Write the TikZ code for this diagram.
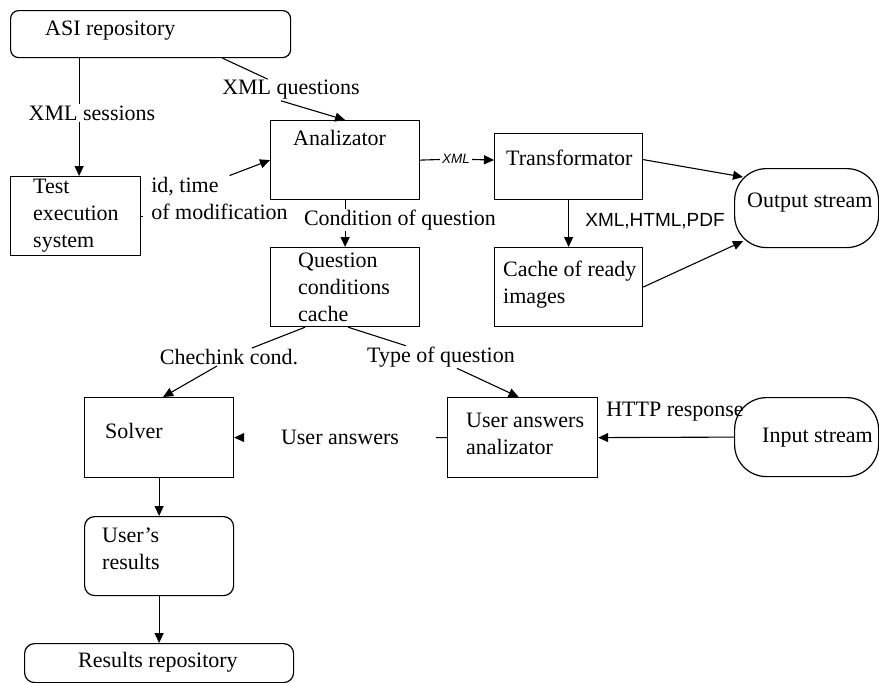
\documentclass[tikz,border=0pt]{standalone}
\usepackage{fontspec}
\setmainfont{Liberation Serif}
\newfontfamily\lsans{Liberation Sans}
\usetikzlibrary{arrows.meta}
\begin{document}
\begin{tikzpicture}[x=1pt,y=-1pt,
  font=\fontsize{22}{27}\selectfont,
  box/.style={draw, line width=1.2pt, inner sep=0pt, anchor=north west},
  rbox/.style={box, rounded corners=#1},
  rbox/.default=8pt,
  txt/.style={anchor=west, inner sep=0pt, align=left},
  lbl/.style={inner xsep=2pt, inner ysep=1pt, align=left},
  ln/.style={line width=1.1pt},
  arr/.style={line width=1.1pt, -{Triangle[length=10pt,width=9pt]}},
]
\useasboundingbox (0,0) rectangle (879,683);

% boxes
\node[rbox=8pt, minimum width=280pt, minimum height=47pt] (asi) at (10,10) {};
\node[box, minimum width=130pt, minimum height=79pt] (test) at (10,176) {};
\node[box, minimum width=149pt, minimum height=79pt] (ana) at (270,120) {};
\node[box, minimum width=148pt, minimum height=66pt] (trans) at (494,133) {};
\node[rbox=32pt, minimum width=144pt, minimum height=79pt] (outstr) at (734,168) {};
\node[box, minimum width=149pt, minimum height=79pt] (qcc) at (270,247) {};
\node[box, minimum width=148pt, minimum height=79pt] (cache) at (494,247) {};
\node[box, minimum width=149pt, minimum height=80pt] (solver) at (84,397) {};
\node[box, minimum width=150pt, minimum height=80pt] (uaa) at (447,397) {};
\node[rbox=32pt, minimum width=144pt, minimum height=79pt] (instr) at (734,397) {};
\node[rbox=10pt, minimum width=149pt, minimum height=79pt] (ures) at (84,516) {};
\node[rbox=10pt, minimum width=269pt, minimum height=39pt] (rrepo) at (24,643) {};

% box texts
\node[txt] (tasi) at (45,31) {ASI repository};
\node[txt] (ttest) at (33,216) {Test\\execution\\system};
\node[txt] (tana) at (293,138) {Analizator};
\node[txt] (ttrans) at (506,158) {Transformator};
\node[txt] (tout) at (747,203) {Output stream};
\node[txt] (tqcc) at (298,287) {Question\\conditions\\cache};
\node[txt] (tcache) at (503,285) {Cache of ready\\images};
\node[txt] (tsolver) at (105,431) {Solver};
\node[txt] (tuaa) at (466,434) {User answers\\analizator};
\node[txt] (tin) at (762,438) {Input stream};
\node[txt] (tures) at (102,549) {User’s\\results};
\node[txt] (trrepo) at (78,662) {Results repository};

% connector labels
\node[lbl] (lsess) at (92,113) {XML sessions};
\node[lbl] (lq) at (291,90) {XML questions};
\node[lbl, inner xsep=8pt] (lid) at (219.5,198) {id, time\\of modification};
\node[lbl] (lcond) at (400,220) {Condition of question};
\node[lbl, font=\lsans\itshape\fontsize{13.5}{16}\selectfont] (lxml) at (456,159) {XML};
\node[lbl, font=\lsans\fontsize{19}{23}\selectfont] (lhtml) at (655,221) {XML,HTML,PDF};
\node[lbl] (lchk) at (229,357) {Chechink cond.};
\node[lbl] (lty) at (441,357) {Type of question};
\node[lbl, inner xsep=37pt] (lans) at (340,437) {User answers};
\node[lbl] (lhttp) at (675,412) {HTTP response};

% connectors
\coordinate (sx) at ([xshift=3.5pt]test.north);
\draw[ln] (asi.south -| sx) -- (lsess.north -| sx);
\draw[arr] (lsess.south -| sx) -- (sx);
\draw[ln] ([xshift=72pt]asi.south) -- (lq);
\draw[arr] ([xshift=-10pt]lq.south) -- (ana.north);
\draw[ln] (test.east) -- (test.east -| lid.west);
\draw[arr] ([xshift=10pt]lid.north) -- (ana.west);
\draw[ln] (ana.south) -- (ana.south |- lcond.north);
\draw[arr] (ana.south |- lcond.south) -- (qcc.north);
\draw[ln] (ana.east) -- (lxml);
\draw[arr] (lxml) -- (trans.west |- ana.east);
\draw[arr] ([yshift=7pt]trans.east) -- ([xshift=9pt,yshift=-9pt]outstr.north west);
\draw[arr] (trans.south) -- (cache.north);
\draw[arr] (cache.east) -- ([xshift=9pt,yshift=7pt]outstr.south west);
\draw[ln] ([xshift=-40pt]qcc.south) -- (lchk);
\draw[arr] ([xshift=-12pt]lchk.south) -- ([xshift=4pt]solver.north);
\draw[ln] ([xshift=3pt]qcc.south) -- (lty);
\draw[arr] ([xshift=16pt]lty.south) -- ([xshift=-4pt]uaa.north);
\draw[ln] (uaa.west) -- (lans);
\draw[arr] (lans) -- (solver.east);
\draw[arr] (instr.west) -- (uaa.east);
\draw[arr] (solver.south) -- (ures.north);
\draw[arr] (ures.south) -- (rrepo.north);
\end{tikzpicture}
\end{document}
